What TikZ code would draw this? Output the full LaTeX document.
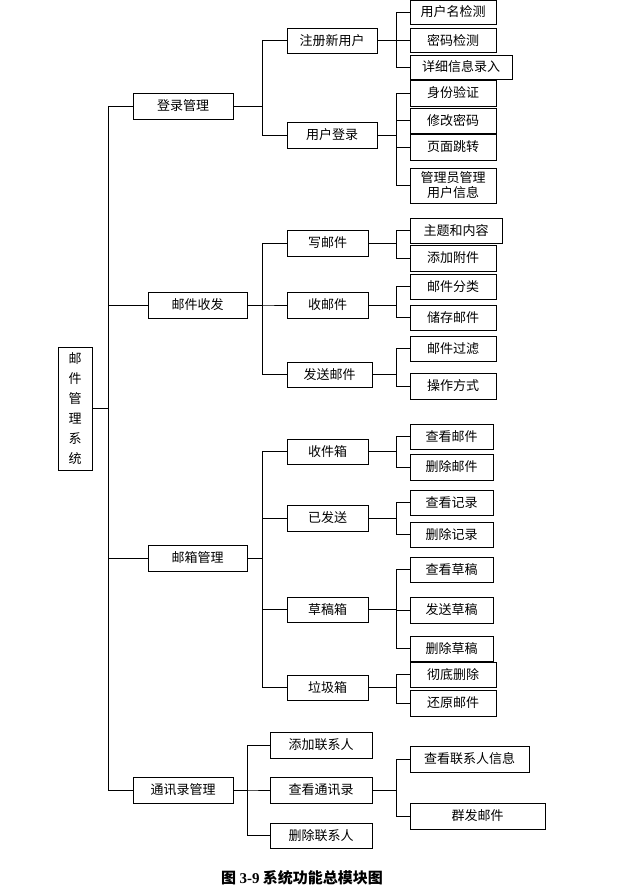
\documentclass[tikz,border=0pt]{standalone}
\usepackage{fontspec}
\setmainfont{Liberation Serif}
\newfontfamily\cjk{Noto Sans CJK SC}
\usetikzlibrary{calc}
\tikzset{bx/.style={draw,line width=0.7pt,inner sep=0pt,align=center,font=\cjk\fontsize{13}{15}\selectfont},
ln/.style={line width=0.7pt}}
\newcommand{\bx}[6]{\node[bx,minimum width=#4-#2,minimum height=#5-#3] (#1) at ({(#2+#4)/2},{(#3+#5)/2}) {#6};}
\begin{document}
\begin{tikzpicture}[x=1pt,y=-1pt]
\useasboundingbox (0,0) rectangle (626,896);
\coordinate (t) at (108,0);
\coordinate (b2) at (262,0);
\coordinate (b4) at (247,0);
\coordinate (b3) at (396,0);
\node[bx,minimum width=34,minimum height=123,font=\cjk\fontsize{13}{20}\selectfont] (root) at (75,408.5) {邮\\件\\管\\理\\系\\统};
\bx{a}{133}{93}{233}{119}{登录管理}
\bx{b}{148}{292}{247}{318}{邮件收发}
\bx{c}{148}{545}{247}{571}{邮箱管理}
\bx{d}{133}{777}{233}{803}{通讯录管理}
\bx{a1}{287}{28}{377}{53}{注册新用户}
\bx{a2}{287}{122}{377}{148}{用户登录}
\bx{a11}{410}{0}{496}{24}{用户名检测}
\bx{a12}{410}{28}{496}{52}{密码检测}
\bx{a13}{410}{55}{512}{79}{详细信息录入}
\bx{a21}{410}{80}{496}{106}{身份验证}
\bx{a22}{410}{108}{496}{133}{修改密码}
\bx{a23}{410}{134}{496}{160}{页面跳转}
\bx{a24}{410}{168}{496}{203}{管理员管理\\用户信息}
\bx{b1}{287}{230}{368}{256}{写邮件}
\bx{b2n}{287}{292}{368}{318}{收邮件}
\bx{b3n}{287}{362}{372}{387}{发送邮件}
\bx{b11}{410}{218}{502}{243}{主题和内容}
\bx{b12}{410}{245}{496}{271}{添加附件}
\bx{b21}{410}{274}{496}{299}{邮件分类}
\bx{b22}{410}{305}{496}{330}{储存邮件}
\bx{b31}{410}{336}{496}{361}{邮件过滤}
\bx{b32}{410}{373}{496}{399}{操作方式}
\bx{c1}{287}{439}{368}{464}{收件箱}
\bx{c2}{287}{505}{368}{531}{已发送}
\bx{c3}{287}{597}{368}{622}{草稿箱}
\bx{c4}{287}{675}{368}{700}{垃圾箱}
\bx{c11}{410}{424}{493}{449}{查看邮件}
\bx{c12}{410}{454}{493}{480}{删除邮件}
\bx{c21}{410}{490}{493}{515}{查看记录}
\bx{c22}{410}{522}{493}{547}{删除记录}
\bx{c31}{410}{557}{493}{582}{查看草稿}
\bx{c32}{410}{597}{493}{623}{发送草稿}
\bx{c33}{410}{636}{493}{661}{删除草稿}
\bx{c41}{410}{662}{496}{687}{彻底删除}
\bx{c42}{410}{690}{496}{716}{还原邮件}
\bx{d1}{270}{732}{372}{758}{添加联系人}
\bx{d2}{270}{777}{372}{803}{查看通讯录}
\bx{d3}{270}{823}{372}{848}{删除联系人}
\bx{d21}{410}{746}{529}{772}{查看联系人信息}
\bx{d22}{410}{803}{545}{829}{群发邮件}
\draw[ln] (root.east) -- (root.east -| t);
\foreach \c in {a,b,c,d} \draw[ln] (root.east -| t) |- (\c.west);
\foreach \p/\c in {a/a1,a/a2,b/b1,b/b2n,b/b3n,c/c1,c/c2,c/c3,c/c4}
  \draw[ln] (\p.east) -- (\p.east -| b2) |- (\c.west);
\foreach \c in {d1,d2,d3} \draw[ln] (d.east) -- (d.east -| b4) |- (\c.west);
\foreach \p/\c in {a1/a11,a1/a12,a1/a13,a2/a21,a2/a22,a2/a23,a2/a24,b1/b11,b1/b12,b2n/b21,b2n/b22,b3n/b31,b3n/b32,c1/c11,c1/c12,c2/c21,c2/c22,c3/c31,c3/c32,c3/c33,c4/c41,c4/c42,d2/d21,d2/d22}
  \draw[ln] (\p.east) -- (\p.east -| b3) |- (\c.west);
\node[font=\cjk\bfseries\fontsize{15}{17}\selectfont] (cap) at (302,878) {图 {\rmfamily\bfseries 3-9} 系统功能总模块图};
\end{tikzpicture}
\end{document}
